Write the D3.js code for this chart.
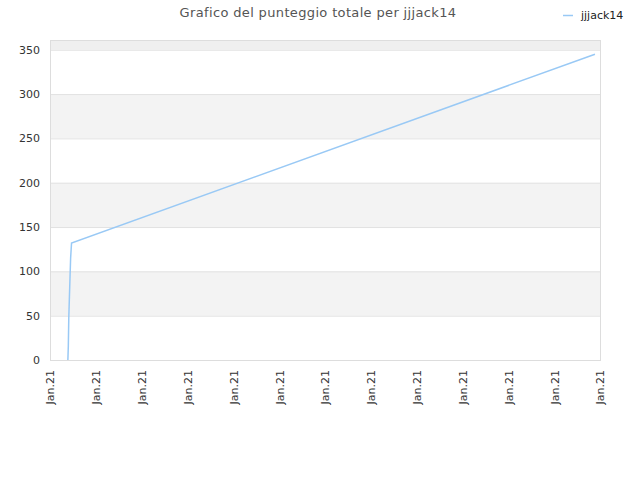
<!DOCTYPE html>
<html>
<head>
<meta charset="utf-8">
<script src="https://cdn.jsdelivr.net/npm/d3@7"></script>
<style>
  body { margin: 0; background: #fff; }
  text { font-family: "DejaVu Sans", sans-serif; }
</style>
</head>
<body>
<div id="chart"></div>
<script>
// data
var xTickLabels = ["Jan.21", "Jan.21", "Jan.21", "Jan.21", "Jan.21", "Jan.21", "Jan.21",
                   "Jan.21", "Jan.21", "Jan.21", "Jan.21", "Jan.21", "Jan.21"];
var yTicks = [0, 50, 100, 150, 200, 250, 300, 350];
var pointX = [0.39, 0.40, 0.41, 0.43, 0.45, 0.47, 11.89];
var pointY = [0, 16, 48, 82, 115, 132, 345];
var seriesName = "jjjack14";

var svgWidth = 640;
var svgHeight = 480;
var margin = { top: 40, right: 40, bottom: 120, left: 50 };
var width = svgWidth - margin.left - margin.right;
var height = svgHeight - margin.top - margin.bottom;

var svg = d3.select("#chart")
  .append("svg")
  .attr("width", svgWidth)
  .attr("height", svgHeight);

var chartGroup = svg.append("g")
  .attr("transform", `translate(${margin.left}, ${margin.top})`);

var xScale = d3.scaleLinear()
  .domain([0, xTickLabels.length - 1])
  .range([0, width]);

var yScale = d3.scaleLinear()
  .domain([0, 361])
  .range([height, 0]);

// alternating bands
var bandEdges = yTicks.concat([361]);
for (var i = 0; i < bandEdges.length - 1; i++) {
  if (i % 2 === 1) {
    chartGroup.append("rect")
      .attr("x", 0)
      .attr("width", width)
      .attr("y", yScale(bandEdges[i + 1]))
      .attr("height", yScale(bandEdges[i]) - yScale(bandEdges[i + 1]))
      .attr("fill", i === bandEdges.length - 2 ? "#efefef" : "#f3f3f3");
  }
}

// grid lines
chartGroup.selectAll(".grid")
  .data(yTicks)
  .enter()
  .append("line")
  .attr("x1", 0)
  .attr("x2", width)
  .attr("y1", d => yScale(d) + 0.5)
  .attr("y2", d => yScale(d) + 0.5)
  .attr("stroke", "#e2e2e2");

// frame
chartGroup.append("rect")
  .attr("x", 0.5)
  .attr("y", 0.5)
  .attr("width", width)
  .attr("height", height)
  .attr("fill", "none")
  .attr("stroke", "#dddddd");

// axes
var leftAxis = d3.axisLeft(yScale).tickValues(yTicks).tickSize(0).tickPadding(10);
var yAxisG = chartGroup.append("g").call(leftAxis);
yAxisG.select(".domain").remove();
yAxisG.selectAll("text")
  .style("font-size", "11px")
  .attr("fill", "#333");

var bottomAxis = d3.axisBottom(xScale)
  .tickValues(d3.range(xTickLabels.length))
  .tickFormat(i => xTickLabels[i])
  .tickSize(0);
var xAxisG = chartGroup.append("g")
  .attr("transform", `translate(0, ${height})`)
  .call(bottomAxis);
xAxisG.select(".domain").remove();
xAxisG.selectAll("text")
  .style("font-size", "11px")
  .attr("fill", "#333")
  .attr("text-anchor", "end")
  .attr("transform", "rotate(-90)")
  .attr("x", -10)
  .attr("y", 0)
  .attr("dy", "0.35em");

// line
var points = pointX.map((x, i) => [x, pointY[i]]);
var line = d3.line()
  .x(d => xScale(d[0]))
  .y(d => yScale(d[1]));

chartGroup.append("path")
  .datum(points)
  .attr("d", line)
  .attr("fill", "none")
  .attr("stroke", "#99c9f5")
  .attr("stroke-width", 1.5);

// title
svg.append("text")
  .attr("x", 318)
  .attr("y", 17)
  .attr("text-anchor", "middle")
  .style("font-size", "13px")
  .style("letter-spacing", "0.35px")
  .attr("fill", "#555")
  .text("Grafico del punteggio totale per " + seriesName);

// legend
svg.append("line")
  .attr("x1", 563)
  .attr("x2", 573)
  .attr("y1", 15.5)
  .attr("y2", 15.5)
  .attr("stroke", "#99c9f5")
  .attr("stroke-width", 1.5);

svg.append("text")
  .attr("x", 581)
  .attr("y", 19)
  .style("font-size", "11px")
  .attr("fill", "#222")
  .text(seriesName);
</script>
</body>
</html>
